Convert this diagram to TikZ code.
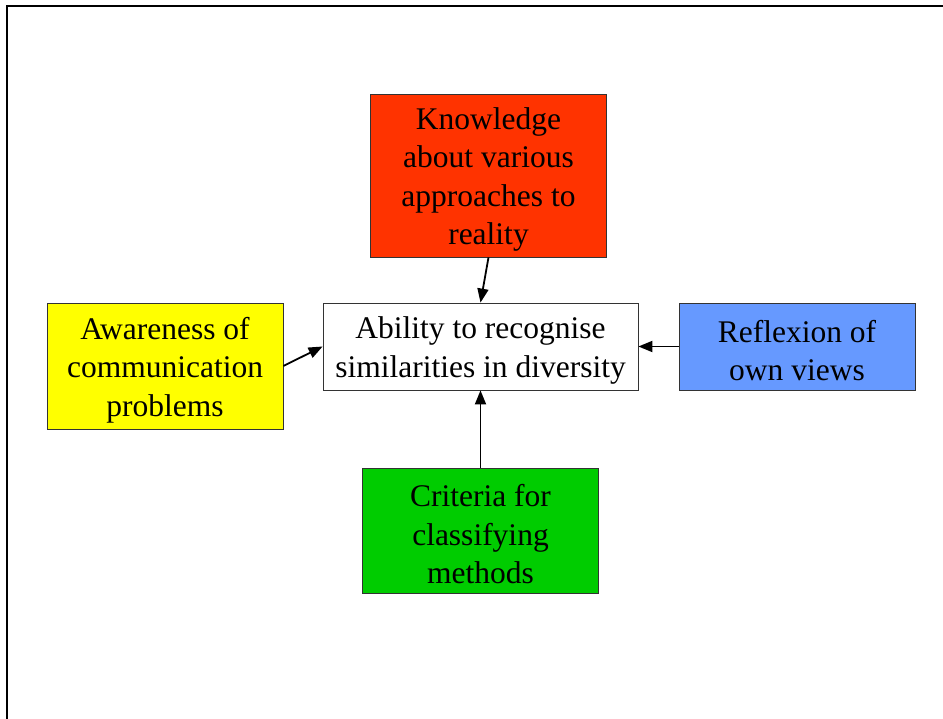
\documentclass[tikz,border=0pt]{standalone}
\usepackage{fontspec}
\setmainfont{Liberation Serif}
\usepackage{tikz}
\usepackage{xcolor}
\usetikzlibrary{arrows.meta,positioning}

\definecolor{knowred}{RGB}{255,51,0}
\definecolor{awareyellow}{RGB}{255,255,0}
\definecolor{reflblue}{RGB}{102,153,255}
\definecolor{critgreen}{RGB}{0,204,0}
\newcommand{\firstline}{\rule{0pt}{30pt}}

\begin{document}
\begin{tikzpicture}[
  x=1pt, y=1pt,
  font=\fontsize{31.5}{38.5}\selectfont,
  ideabox/.style={
    draw=black!80, line width=0.8pt, align=center, inner sep=2pt,
    minimum width=236pt
  },
  arr/.style={-{Triangle[length=14pt,width=11pt]}, line width=1.8pt, black}
]
\useasboundingbox (0,0) rectangle (943,-719);
\draw[line width=2pt] (7,-719) -- (7,-6) -- (943,-6);

\node[ideabox, fill=knowred, minimum height=163pt] (know) at (488.5,-175.5)
  {\firstline Knowledge\\about various\\approaches to\\reality};
\node[ideabox, fill=white, minimum width=315pt, minimum height=87pt] (abil) at (480.5,-346.5)
  {\firstline Ability to recognise\\similarities in diversity};
\node[ideabox, fill=awareyellow, minimum height=126pt] (aware) at (165,-366)
  {\firstline Awareness of\\communication\\problems};
\node[ideabox, fill=reflblue, minimum height=87pt] (refl) at (797,-346.5)
  {\firstline Reflexion of\\own views};
\node[ideabox, fill=critgreen, minimum height=125pt] (crit) at (480.5,-530.5)
  {\firstline Criteria for\\classifying\\methods};

\draw[arr] (know.south) -- (abil.north);
\draw[arr] (aware.east) -- (abil.west);
\draw[arr] (refl.west) -- (abil.east);
\draw[arr] (crit.north) -- (abil.south);
\end{tikzpicture}
\end{document}
